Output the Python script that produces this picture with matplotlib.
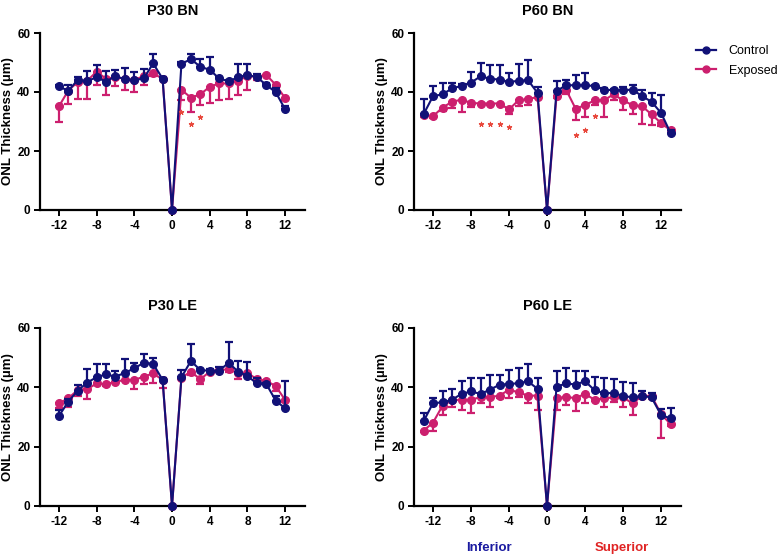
import matplotlib
matplotlib.use("Agg")
import matplotlib.pyplot as plt
from matplotlib.lines import Line2D

plt.rcParams['font.family'] = ['Liberation Sans', 'DejaVu Sans']

x_p30 = list(range(-12, 13))
x_p60 = list(range(-13, 14))

p30bn_ctrl = [41.9, 40.4, 44.1, 43.7, 45.0, 43.5, 45.4, 44.3, 44.0, 44.6, 49.7, 44.5, 0,
              49.6, 51.1, 48.6, 47.5, 44.6, 43.6, 45.0, 45.8, 45.0, 42.4, 39.9, 34.1]
p30bn_ctrl_err = [0.5, 2.0, 1.0, 3.5, 4.0, 3.7, 2.0, 3.7, 2.7, 3.2, 3.3, 0.5, 0,
                  0.5, 1.7, 2.5, 4.5, 0.5, 0.5, 4.4, 3.6, 1.0, 0.5, 1.5, 1.0]
p30bn_exp = [35.1, 40.5, 43.4, 43.8, 46.9, 44.5, 45.0, 44.5, 44.0, 45.5, 46.3, 44.5, 0,
             40.7, 38.1, 39.2, 41.8, 42.9, 42.9, 43.8, 45.4, 45.2, 45.8, 42.4, 37.9]
p30bn_exp_err = [5.4, 4.5, 5.8, 6.2, 4.5, 5.5, 3.0, 3.8, 4.0, 3.0, 1.0, 0.5, 0,
                 3.4, 4.8, 3.6, 5.6, 5.6, 5.3, 4.8, 4.7, 1.0, 0.5, 0.8, 0.5]
p30bn_star_x = [1, 2, 3]
p30bn_star_y = [33.3, 29.2, 31.4]

p60bn_ctrl = [32.4, 38.6, 39.2, 41.2, 42.1, 43.2, 45.3, 44.5, 44.2, 43.4, 43.8, 44.0, 39.7, 0,
              40.3, 42.3, 42.3, 42.3, 42.0, 40.8, 40.6, 40.6, 40.8, 38.6, 36.7, 32.9, 26.1]
p60bn_ctrl_err = [5.2, 3.5, 4.0, 2.0, 0.5, 3.6, 4.7, 4.8, 4.9, 3.1, 5.8, 7.0, 2.0, 0,
                  3.3, 1.9, 3.4, 4.2, 0.5, 0.5, 0.5, 1.0, 1.5, 2.0, 3.0, 6.0, 1.0]
p60bn_exp = [32.1, 31.8, 34.7, 36.7, 37.4, 36.3, 36.1, 36.1, 36.1, 34.1, 37.2, 37.6, 38.3, 0,
             38.6, 40.8, 34.4, 35.5, 37.2, 37.2, 39.2, 37.2, 35.5, 35.2, 32.4, 29.5, 27.0]
p60bn_exp_err = [0.5, 0.5, 1.0, 2.0, 4.2, 1.5, 0.5, 0.5, 0.5, 1.7, 2.0, 2.0, 0.5, 0,
                 0.8, 1.5, 4.0, 3.9, 1.7, 5.6, 2.0, 3.4, 2.8, 5.9, 3.6, 1.0, 0.5]
p60bn_star_x = [-7, -6, -5, -4, 3, 4, 5]
p60bn_star_y = [29.3, 29.3, 29.3, 28.0, 25.4, 27.1, 31.8]

p30le_ctrl = [30.3, 35.2, 38.9, 41.6, 43.4, 44.4, 43.6, 44.9, 46.4, 48.3, 47.9, 42.5, 0,
              43.4, 48.9, 45.8, 45.6, 45.6, 48.3, 45.3, 43.8, 41.3, 41.1, 35.5, 32.9]
p30le_ctrl_err = [2.0, 1.0, 2.0, 4.6, 4.5, 3.5, 2.0, 4.6, 1.9, 2.9, 2.1, 0.5, 0,
                  2.4, 5.7, 0.5, 0.5, 1.4, 7.1, 3.7, 4.9, 2.0, 0.5, 1.5, 9.2]
p30le_exp = [34.6, 36.3, 39.1, 39.4, 41.3, 41.0, 41.9, 42.5, 42.5, 43.6, 44.7, 42.5, 0,
             43.3, 45.3, 42.7, 45.3, 45.8, 46.1, 44.7, 44.9, 42.7, 42.2, 40.4, 35.7]
p30le_exp_err = [1.7, 2.8, 2.0, 3.3, 0.5, 0.5, 0.5, 0.5, 3.1, 2.5, 3.1, 2.8, 0,
                 0.5, 1.0, 1.7, 0.5, 0.5, 1.0, 2.0, 0.5, 0.5, 0.5, 1.5, 0.5]

p60le_ctrl = [28.5, 34.7, 34.9, 35.8, 37.8, 38.6, 37.8, 39.2, 40.9, 41.1, 41.4, 42.0, 39.5, 0,
              40.1, 41.4, 40.9, 42.1, 39.0, 38.0, 38.1, 37.1, 36.6, 37.1, 36.6, 30.7, 29.5]
p60le_ctrl_err = [3.0, 1.7, 4.0, 3.7, 4.2, 4.7, 5.3, 5.0, 3.3, 4.8, 5.1, 6.0, 3.8, 0,
                  5.3, 5.1, 4.5, 3.3, 4.5, 5.1, 4.8, 4.8, 5.0, 1.5, 1.5, 2.0, 3.4]
p60le_exp = [25.4, 28.1, 33.8, 35.6, 35.8, 35.8, 36.7, 36.7, 37.2, 39.2, 38.3, 37.2, 37.2, 0,
             36.4, 36.7, 36.4, 37.8, 35.8, 36.3, 36.6, 36.6, 34.6, 37.1, 37.1, 31.0, 27.6]
p60le_exp_err = [0.5, 2.7, 3.0, 2.3, 3.4, 4.5, 2.0, 3.2, 0.8, 2.8, 1.5, 2.5, 4.8, 0,
                 4.0, 2.6, 4.5, 3.1, 0.5, 2.9, 1.5, 3.1, 3.9, 0.5, 1.0, 8.0, 0.5]

titles = ["P30 BN", "P60 BN", "P30 LE", "P60 LE"]
x_ticks = [-12, -8, -4, 0, 4, 8, 12]
y_ticks = [0, 20, 40, 60]
series_names = ["Control", "Exposed"]

NAVY = "#111177"
MAGENTA = "#cc1f6e"
STAR = "#e8463a"

panels = [
    (x_p30, p30bn_ctrl, p30bn_ctrl_err, p30bn_exp, p30bn_exp_err, p30bn_star_x, p30bn_star_y),
    (x_p60, p60bn_ctrl, p60bn_ctrl_err, p60bn_exp, p60bn_exp_err, p60bn_star_x, p60bn_star_y),
    (x_p30, p30le_ctrl, p30le_ctrl_err, p30le_exp, p30le_exp_err, [], []),
    (x_p60, p60le_ctrl, p60le_ctrl_err, p60le_exp, p60le_exp_err, [], []),
]

W, H = 783, 556
fig = plt.figure(figsize=(W / 100, H / 100), dpi=100)

boxes = [
    (40, 305, 33, 210),
    (414, 681, 33, 210),
    (40, 305, 328, 506),
    (414, 681, 328, 506),
]

for (l, r, t, b), title, (xs, c, ce, e, ee, sx, sy) in zip(boxes, titles, panels):
    ax = fig.add_axes([l / W, 1 - b / H, (r - l) / W, (b - t) / H])
    n = len(xs)
    ax.errorbar(xs, e, yerr=[ee, [0] * n], color=MAGENTA, marker='o', markersize=5.5,
                linewidth=1.5, elinewidth=1.6, capsize=3.2, capthick=1.6, zorder=3)
    ax.errorbar(xs, c, yerr=[[0] * n, ce], color=NAVY, marker='o', markersize=5.5,
                linewidth=1.5, elinewidth=1.6, capsize=3.2, capthick=1.6, zorder=4)
    if sx:
        ax.scatter(sx, sy, marker=(5, 2, 0), s=10, color=STAR, linewidths=0.8, zorder=5)
    ax.set_xlim(-14, 14.1)
    ax.set_ylim(0, 60)
    ax.set_xticks(x_ticks)
    ax.set_yticks(y_ticks)
    ax.set_xticklabels([str(v) for v in x_ticks])
    for s in ['top', 'right']:
        ax.spines[s].set_visible(False)
    for s in ['left', 'bottom']:
        ax.spines[s].set_linewidth(1.6)
    ax.tick_params(axis='both', direction='out', length=4, width=1.4, labelsize=8.5, pad=3)
    for lab in ax.get_xticklabels() + ax.get_yticklabels():
        lab.set_fontweight('bold')
    ax.set_ylabel("ONL Thickness (µm)", fontsize=9.5, fontweight='bold', labelpad=2)
    ax.set_title(title, fontsize=10.5, fontweight='bold', pad=13)
    for child in ax.get_children():
        try:
            child.set_clip_on(False)
        except Exception:
            pass

handles = [
    Line2D([0], [0], color=NAVY, marker='o', markersize=5, linewidth=1.6),
    Line2D([0], [0], color=MAGENTA, marker='o', markersize=5, linewidth=1.6),
]
fig.legend(handles, series_names, loc='upper left', bbox_to_anchor=(685 / W, 1 - 34 / H),
           frameon=False, fontsize=9, handlelength=1.6, handletextpad=1.0, labelspacing=0.6)

fig.text(489 / W, 1 - 548 / H, "Inferior", color="#1a1aa0", fontsize=9.5,
         fontweight='bold', ha='center', va='center')
fig.text(622 / W, 1 - 548 / H, "Superior", color="#e02424", fontsize=9.5,
         fontweight='bold', ha='center', va='center')

fig.savefig("out.png", dpi=100)
